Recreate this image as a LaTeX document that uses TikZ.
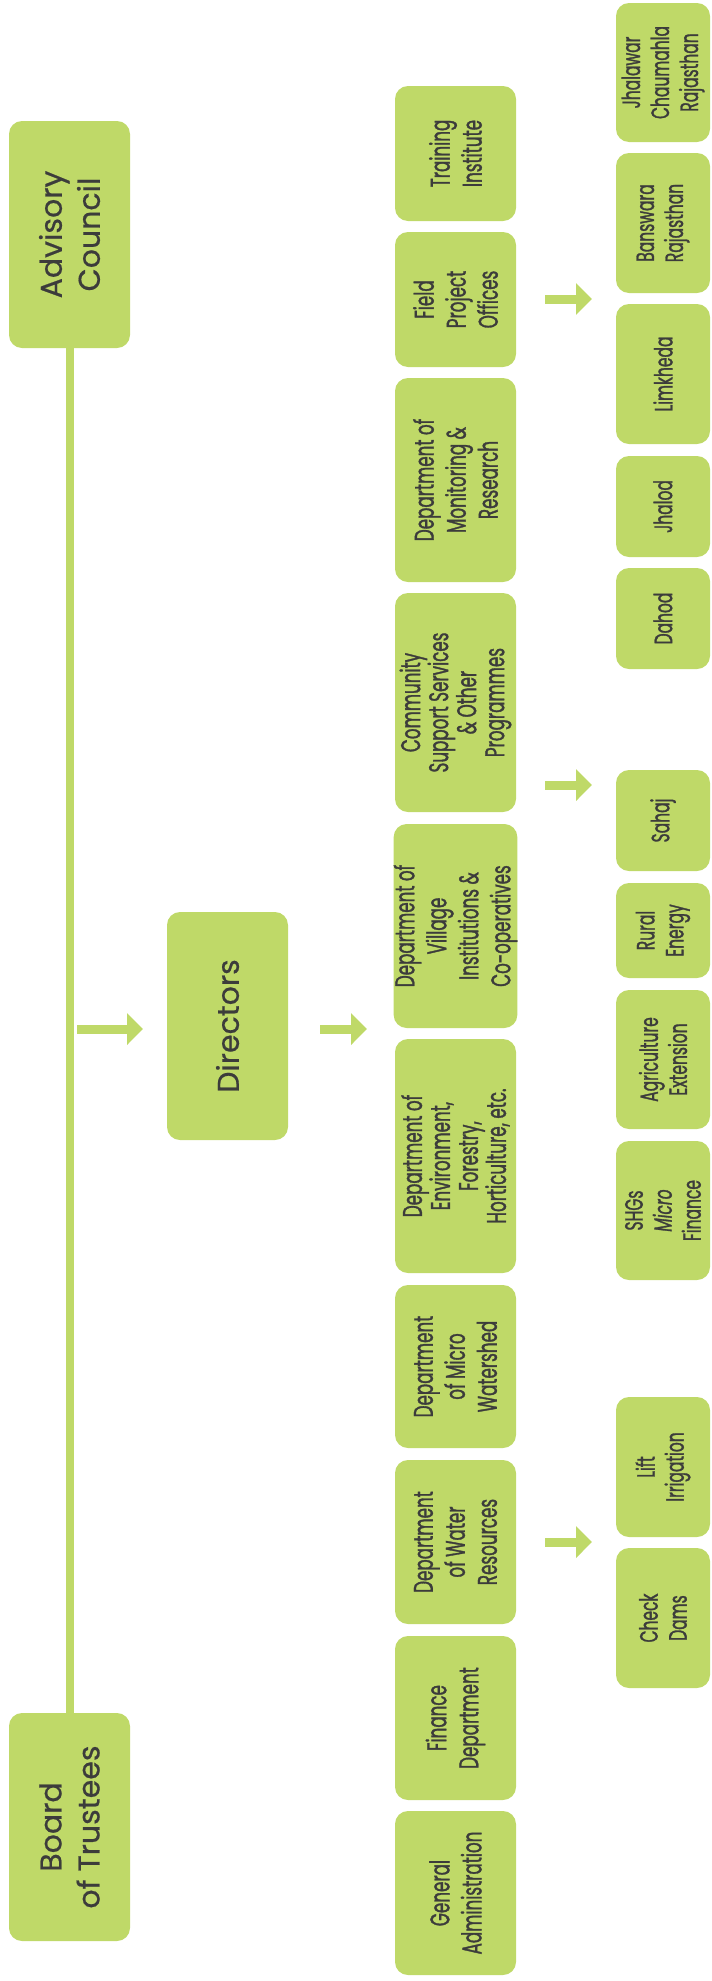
\documentclass[tikz,border=0pt]{standalone}
\usepackage{fontspec}
\setmainfont{Poppins}[FakeBold=0.6]
\newfontfamily\condfont{Poppins}[FakeStretch=0.62,FakeBold=1.2]
\usetikzlibrary{arrows.meta,backgrounds}
\definecolor{leaf}{RGB}{191,217,104}
\definecolor{ink}{RGB}{60,60,59}
\begin{document}
\begin{tikzpicture}[x=1pt,y=-1pt,
  box/.style={fill=leaf, rounded corners=13pt, rotate=90, inner sep=0pt, text=ink, align=center},
  big/.style={box, font=\fontsize{30}{38}\selectfont},
  mid/.style={box, font=\condfont\fontsize{27}{32}\selectfont},
  midfour/.style={box, font=\condfont\fontsize{27}{28}\selectfont},
  small/.style={box, font=\condfont\fontsize{25}{29}\selectfont},
  link/.style={draw=leaf, line width=8pt},
  fat/.style={draw=leaf, line width=9pt, -{Triangle[length=16pt,width=31pt]}}]
\useasboundingbox (0,0) rectangle (712,1981);
% column 1
\node[big, minimum width=227pt, minimum height=121pt] (ac) at (69.5,234.5) {Advisory\\Council};
\node[big, minimum width=228pt, minimum height=121pt] (bt) at (69.5,1827) {Board\\of Trustees};
\node[big, minimum width=228pt, minimum height=121pt] (dir) at (227.5,1026) {Directors};
% column 3
\node[mid, minimum width=135pt, minimum height=121pt] (ti) at (455.5,153.5) {Training\\Institute};
\node[mid, minimum width=135pt, minimum height=121pt] (fpo) at (455.5,299.5) {Field\\Project\\Offices};
\node[mid, minimum width=204pt, minimum height=121pt] (dmr) at (455.5,480) {Department of\\Monitoring \&\\Research};
\node[midfour, minimum width=219pt, minimum height=121pt] (css) at (455.5,702.5) {Community\\Support Services\\\& Other\\Programmes};
\node[mid, minimum width=204pt, minimum height=121pt] (dvi) at (455.5,926) {Department of\\Village\\Institutions \&\\Co-operatives};
\node[midfour, minimum width=234pt, minimum height=121pt] (def) at (455.5,1156) {Department of\\Environment,\\Forestry,\\Horticulture, etc.};
\node[mid, minimum width=163pt, minimum height=121pt] (dmw) at (455.5,1366.5) {Department\\of Micro\\Watershed};
\node[mid, minimum width=164pt, minimum height=121pt] (dwr) at (455.5,1542) {Department\\of Water\\Resources};
\node[mid, minimum width=164pt, minimum height=121pt] (fd) at (455.5,1718) {Finance\\Department};
\node[mid, minimum width=164pt, minimum height=121pt] (ga) at (455.5,1893) {General\\Administration};
% column 4
\node[small, minimum width=139pt, minimum height=94pt] (jcr) at (663,72.5) {Jhalawar\\Chaumahla\\Rajasthan};
\node[small, minimum width=140pt, minimum height=94pt] (br) at (663,223) {Banswara\\Rajasthan};
\node[small, minimum width=140pt, minimum height=94pt] (lim) at (663,374) {Limkheda};
\node[small, minimum width=101pt, minimum height=94pt] (jhd) at (663,506.5) {Jhalod};
\node[small, minimum width=101pt, minimum height=94pt] (dah) at (663,618.5) {Dahod};
\node[small, minimum width=101pt, minimum height=94pt] (sah) at (663,820.5) {Sahaj};
\node[small, minimum width=95pt, minimum height=94pt] (re) at (663,930.5) {Rural\\Energy};
\node[small, minimum width=139pt, minimum height=94pt] (ae) at (663,1059.5) {Agriculture\\Extension};
\node[small, minimum width=139pt, minimum height=94pt] (shg) at (663,1210.5) {SHGs\\{\itshape Micro}\\Finance};
\node[small, minimum width=140pt, minimum height=94pt] (li) at (663,1467) {Lift\\Irrigation};
\node[small, minimum width=140pt, minimum height=94pt] (cd) at (663,1618) {Check\\Dams};
% connectors
\begin{scope}[on background layer]
\draw[link] (ac) -- (bt);
\end{scope}
\coordinate (a1s) at (77,1029);
\coordinate (a1e) at (143,1029);
\coordinate (a2s) at (320,1029);
\coordinate (a2e) at (367,1029);
\coordinate (a3s) at (545,299);
\coordinate (a3e) at (592,299);
\coordinate (a4s) at (545,785);
\coordinate (a4e) at (592,785);
\coordinate (a5s) at (545,1542);
\coordinate (a5e) at (592,1542);
\draw[fat] (a1s) -- (a1e);
\draw[fat] (a2s) -- (a2e);
\draw[fat] (a3s) -- (a3e);
\draw[fat] (a4s) -- (a4e);
\draw[fat] (a5s) -- (a5e);
\end{tikzpicture}
\end{document}
